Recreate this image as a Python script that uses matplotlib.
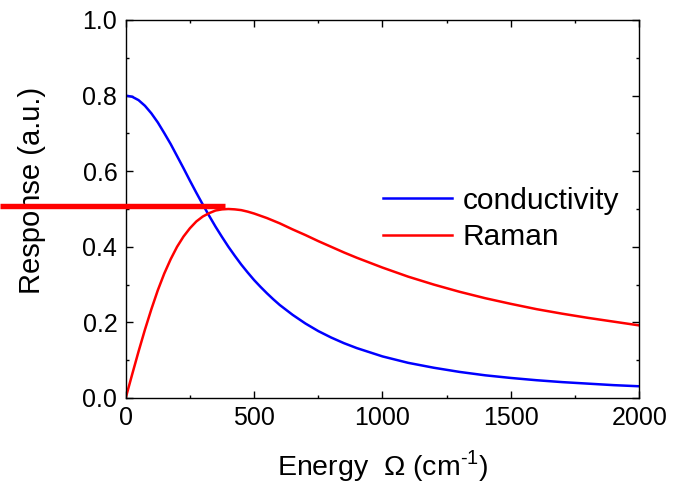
"""Conductivity vs Raman response for a Drude-like line shape."""

import matplotlib
matplotlib.use("Agg")
import matplotlib.pyplot as plt
from matplotlib.ticker import MultipleLocator

plt.rcParams["font.family"] = ["Liberation Sans", "DejaVu Sans"]
plt.rcParams["mathtext.fontset"] = "custom"
plt.rcParams["mathtext.rm"] = "Liberation Sans"

# energy grid (cm^-1) and values
energy = [0, 25, 50, 75, 100, 125, 150, 175, 200, 225, 250, 275, 300, 325,
          350, 375, 400, 425, 450, 475, 500, 525, 550, 575, 600, 650, 700,
          750, 800, 850, 900, 950, 1000, 1100, 1200, 1300, 1400, 1500, 1600,
          1700, 1800, 1900, 2000]
conductivity = [0.800, 0.797, 0.788, 0.773, 0.753, 0.729, 0.701, 0.672, 0.640,
                0.608, 0.575, 0.543, 0.512, 0.482, 0.453, 0.426, 0.400, 0.376,
                0.353, 0.332, 0.312, 0.294, 0.277, 0.261, 0.246, 0.220, 0.197,
                0.177, 0.160, 0.145, 0.132, 0.121, 0.110, 0.093, 0.080, 0.069,
                0.060, 0.053, 0.047, 0.042, 0.038, 0.034, 0.031]
raman = [0.000, 0.062, 0.123, 0.181, 0.235, 0.285, 0.329, 0.367, 0.400, 0.427,
         0.449, 0.467, 0.480, 0.489, 0.496, 0.499, 0.500, 0.499, 0.497, 0.493,
         0.488, 0.482, 0.476, 0.469, 0.462, 0.446, 0.431, 0.415, 0.400, 0.385,
         0.371, 0.358, 0.345, 0.321, 0.300, 0.281, 0.264, 0.249, 0.235, 0.223,
         0.212, 0.202, 0.192]

# thick red marker bar left over on the figure
bar_level = 0.507
bar_x = [-490, 387]

fig = plt.figure(figsize=(6.74, 4.84), dpi=100)
ax = fig.add_axes([0.1865, 0.1777, 0.762, 0.781])

ax.plot(energy, conductivity, color="#0000ff", lw=1.8, label="conductivity")
ax.plot(energy, raman, color="#ff0000", lw=1.8, label="Raman")
ax.plot(bar_x, [bar_level, bar_level], color="#ff0000", lw=3.9,
        solid_capstyle="butt", clip_on=False, zorder=5)

ax.set_xlim(0, 2000)
ax.set_ylim(0, 1.0)
ax.xaxis.set_major_locator(MultipleLocator(500))
ax.xaxis.set_minor_locator(MultipleLocator(250))
ax.yaxis.set_major_locator(MultipleLocator(0.2))
ax.yaxis.set_minor_locator(MultipleLocator(0.1))
ax.yaxis.set_major_formatter(lambda v, p: f"{v:.1f}")

ax.tick_params(which="both", direction="in", top=True, right=True,
               labelsize=18, width=1.0)
ax.tick_params(which="major", length=5, pad=6)
ax.tick_params(which="minor", length=2.5)
for s in ax.spines.values():
    s.set_linewidth(1.0)

ax.set_xlabel("Energy  $\\Omega$ (cm$^{\\mathregular{\u2010 1}}$)", fontsize=20.5,
              labelpad=13)
ax.set_ylabel("Response (a.u.)", fontsize=21)
ax.yaxis.set_label_coords(-0.155, 0.55)

ax.legend(loc="center left", bbox_to_anchor=(0.478, 0.4735), frameon=False,
          fontsize=21.5, handlelength=2.3, handletextpad=0.35,
          labelspacing=0.3, borderaxespad=0)

fig.savefig("out.png", dpi=100)
